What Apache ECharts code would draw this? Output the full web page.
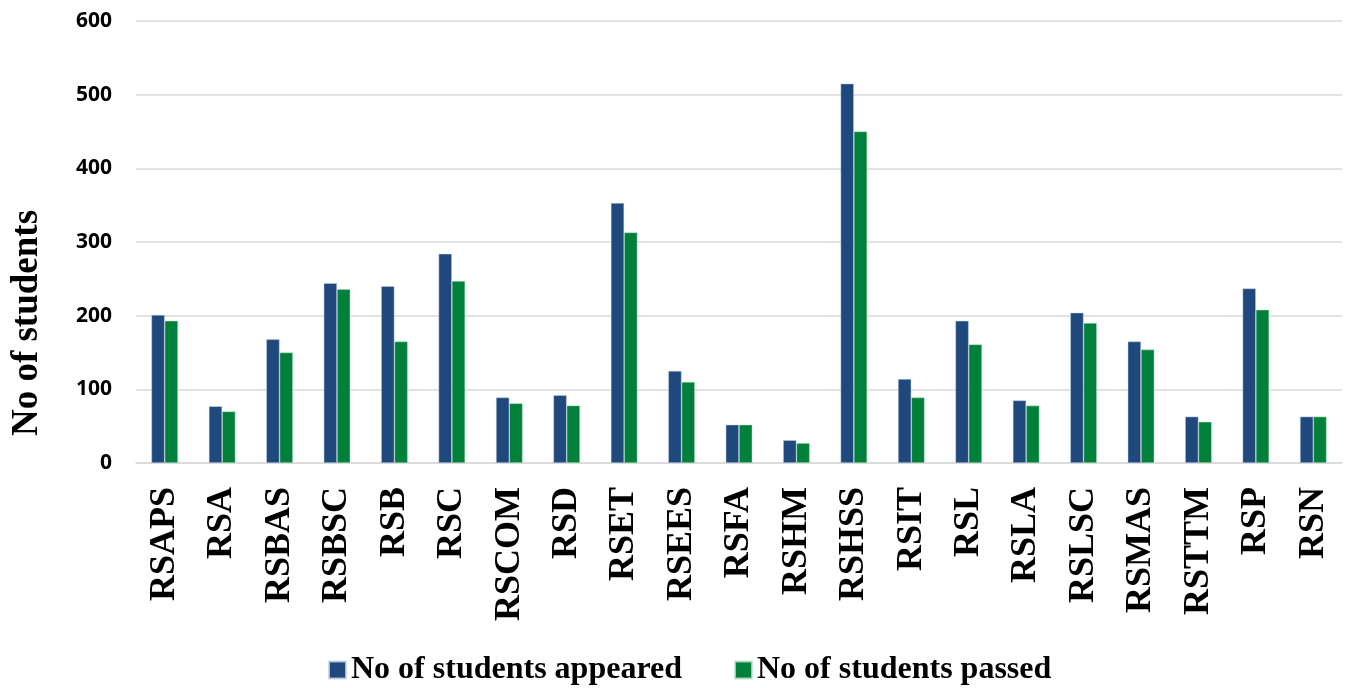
<!DOCTYPE html>
<html>
<head>
<meta charset="utf-8">
<script src="https://cdn.jsdelivr.net/npm/echarts@6/dist/echarts.min.js"></script>
<style>html,body{margin:0;padding:0;background:#fff}#c{width:1347px;height:688px}</style>
</head>
<body>
<div id="c"></div>
<script>
const categories = ["RSAPS","RSA","RSBAS","RSBSC","RSB","RSC","RSCOM","RSD","RSET","RSEES","RSFA","RSHM","RSHSS","RSIT","RSL","RSLA","RSLSC","RSMAS","RSTTM","RSP","RSN"];
const appeared = [201,77,168,244,240,284,89,92,353,125,52,31,515,114,193,85,204,165,63,237,63];
const passed   = [193,70,150,236,165,247,81,78,313,110,52,27,450,89,161,78,190,154,56,208,63];
const yTicks = [0,100,200,300,400,500,600];
const yTitle = 'No of students';

const chart = echarts.init(document.getElementById('c'), null, {renderer:'canvas'});
chart.setOption({
  animation:false,
  backgroundColor:'#fff',
  grid:{left:136, right:5, top:21, bottom:225},
  graphic:[{
    type:'text', x:27, y:323, rotation:Math.PI/2,
    style:{text:yTitle, fontFamily:'Liberation Serif', fontWeight:'bold', fontSize:37, fill:'#000',
      align:'center', verticalAlign:'middle'}
  }],
  legend:{
    left:323, top:649,
    itemWidth:17, itemHeight:17, itemGap:52,
    icon:'rect',
    textStyle:{fontFamily:'Liberation Serif', fontWeight:'bold', fontSize:32, color:'#000'},
    data:['No of students appeared','No of students passed']
  },
  xAxis:{
    type:'category', data:categories,
    axisTick:{show:false},
    axisLine:{lineStyle:{color:'#D9D9D9', width:1.5}},
    axisLabel:{rotate:90, margin:24, interval:0, fontFamily:'Liberation Serif', fontWeight:'bold', fontSize:36, color:'#000'}
  },
  yAxis:{
    type:'value', min:0, max:600, interval:100,
    axisLine:{show:false}, axisTick:{show:false},
    splitLine:{lineStyle:{color:'#D9D9D9', width:1.5}},
    axisLabel:{margin:24, fontFamily:'Open Sans', fontWeight:'bold', fontSize:21, color:'#000',
      formatter:function(v){return yTicks.indexOf(v)>=0 ? String(v) : '';}}
  },
  series:[
    {name:'No of students appeared', type:'bar', data:appeared, barWidth:13.3, barGap:'0%',
     itemStyle:{color:'#1F497D', borderColor:'rgba(200,210,230,0.8)', borderWidth:0.6}},
    {name:'No of students passed', type:'bar', data:passed, barWidth:13.3, barGap:'0%',
     itemStyle:{color:'#00803A', borderColor:'rgba(190,225,200,0.8)', borderWidth:0.6}}
  ]
});
</script>
</body>
</html>
